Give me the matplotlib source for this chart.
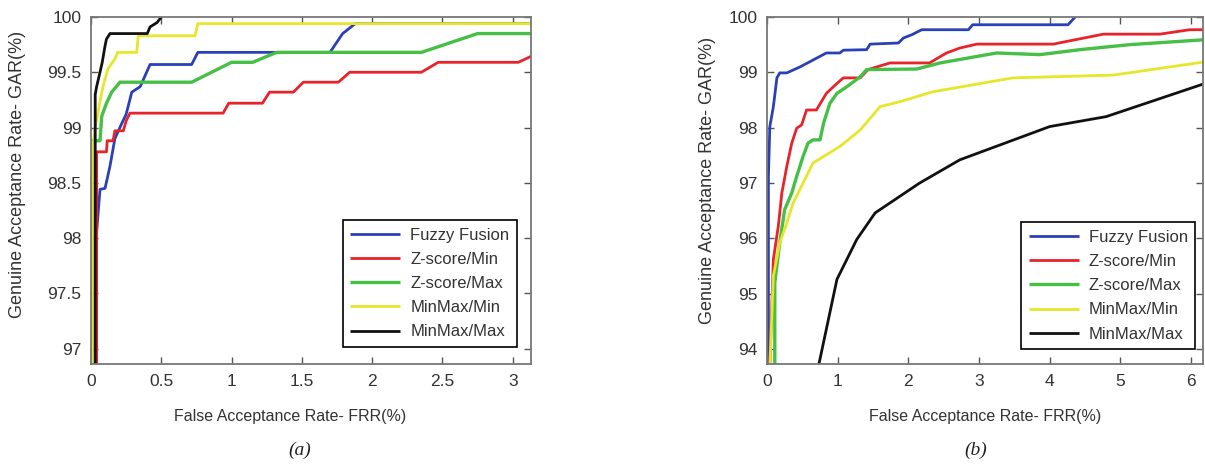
import matplotlib
matplotlib.use("Agg")
import matplotlib.pyplot as plt

plt.rcParams['font.family'] = ['Liberation Sans', 'DejaVu Sans']

labels = ["Fuzzy Fusion", "Z-score/Min", "Z-score/Max", "MinMax/Min", "MinMax/Max"]
colors = ["#2a40b8", "#e8232a", "#45c045", "#e6e62a", "#111111"]
widths = [2.0, 2.0, 2.4, 2.0, 2.0]

# ---- panel (a) ----
a_fuzzy_x = [0.035, 0.04, 0.064, 0.1, 0.135, 0.17, 0.22, 0.25, 0.29, 0.35, 0.42, 0.716, 0.76, 1.70, 1.79, 1.88, 3.13]
a_fuzzy_y = [96.86, 98.05, 98.44, 98.45, 98.65, 98.9, 99.04, 99.12, 99.32, 99.37, 99.57, 99.57, 99.68, 99.68, 99.85, 99.94, 99.94]
a_zmin_x = [0.04, 0.04, 0.11, 0.115, 0.157, 0.17, 0.23, 0.25, 0.277, 0.94, 0.98, 1.22, 1.27, 1.44, 1.51, 1.76, 1.84, 2.35, 2.47, 3.04, 3.14]
a_zmin_y = [96.86, 98.78, 98.78, 98.88, 98.88, 98.97, 98.97, 99.06, 99.13, 99.13, 99.22, 99.22, 99.32, 99.32, 99.41, 99.41, 99.50, 99.50, 99.59, 99.59, 99.65]
a_zmax_x = [0.005, 0.005, 0.064, 0.076, 0.11, 0.147, 0.206, 0.716, 1.0, 1.15, 1.32, 2.35, 2.75, 3.13]
a_zmax_y = [96.86, 98.88, 98.88, 99.10, 99.22, 99.32, 99.41, 99.41, 99.59, 99.59, 99.68, 99.68, 99.85, 99.85]
a_mmin_x = [0.01, 0.01, 0.03, 0.057, 0.087, 0.12, 0.17, 0.19, 0.325, 0.336, 0.74, 0.76, 3.13]
a_mmin_y = [96.86, 98.8, 99.0, 99.19, 99.38, 99.53, 99.62, 99.68, 99.68, 99.83, 99.83, 99.94, 99.94]
a_mmax_x = [0.03, 0.03, 0.04, 0.064, 0.08, 0.10, 0.11, 0.135, 0.40, 0.42, 0.47, 0.50]
a_mmax_y = [96.86, 99.3, 99.37, 99.50, 99.59, 99.74, 99.8, 99.85, 99.85, 99.91, 99.95, 100.0]

a_xticks = [0, 0.5, 1, 1.5, 2, 2.5, 3]
a_xticklabels = ["0", "0.5", "1", "1.5", "2", "2.5", "3"]
a_yticks = [97, 97.5, 98, 98.5, 99, 99.5, 100]
a_yticklabels = ["97", "97.5", "98", "98.5", "99", "99.5", "100"]

# ---- panel (b) ----
b_fuzzy_x = [0.02, 0.02, 0.04, 0.09, 0.14, 0.18, 0.28, 0.47, 0.84, 1.03, 1.08, 1.41, 1.46, 1.86, 1.93, 2.05, 2.19, 2.85, 2.91, 4.26, 4.36]
b_fuzzy_y = [93.7, 97.12, 98.02, 98.38, 98.9, 98.99, 98.99, 99.1, 99.35, 99.35, 99.4, 99.41, 99.51, 99.53, 99.62, 99.68, 99.77, 99.77, 99.86, 99.86, 100.0]
b_zmin_x = [0.04, 0.09, 0.16, 0.21, 0.28, 0.35, 0.42, 0.49, 0.56, 0.70, 0.84, 0.99, 1.08, 1.32, 1.43, 1.74, 2.3, 2.54, 2.73, 2.97, 4.05, 4.76, 5.56, 5.98, 6.2]
b_zmin_y = [93.7, 95.62, 96.22, 96.82, 97.3, 97.72, 97.99, 98.05, 98.32, 98.32, 98.62, 98.8, 98.9, 98.9, 99.05, 99.17, 99.17, 99.35, 99.44, 99.51, 99.51, 99.69, 99.69, 99.77, 99.77]
b_zmax_x = [0.11, 0.11, 0.18, 0.25, 0.35, 0.42, 0.51, 0.58, 0.65, 0.75, 0.80, 0.89, 0.99, 1.13, 1.32, 1.41, 2.12, 2.45, 3.25, 3.86, 4.43, 5.13, 6.2]
b_zmax_y = [93.7, 95.2, 95.92, 96.52, 96.82, 97.12, 97.48, 97.72, 97.78, 97.78, 98.08, 98.44, 98.62, 98.74, 98.92, 99.05, 99.06, 99.17, 99.35, 99.32, 99.41, 99.5, 99.59]
b_mmin_x = [0.04, 0.09, 0.18, 0.28, 0.37, 0.51, 0.65, 1.03, 1.32, 1.60, 1.88, 2.35, 3.48, 4.90, 6.2]
b_mmin_y = [93.7, 95.32, 95.92, 96.28, 96.64, 97.0, 97.36, 97.66, 97.96, 98.38, 98.47, 98.65, 98.9, 98.95, 99.19]
b_mmax_x = [0.73, 0.99, 1.27, 1.53, 2.16, 2.73, 4.0, 4.8, 6.2]
b_mmax_y = [93.7, 95.26, 95.98, 96.46, 97.0, 97.42, 98.02, 98.2, 98.8]

b_xticks = [0, 1, 2, 3, 4, 5, 6]
b_xticklabels = ["0", "1", "2", "3", "4", "5", "6"]
b_yticks = [94, 95, 96, 97, 98, 99, 100]
b_yticklabels = ["94", "95", "96", "97", "98", "99", "100"]

xlabel = "False Acceptance Rate- FRR(%)"
ylabel = "Genuine Acceptance Rate- GAR(%)"

fig = plt.figure(figsize=(12.05, 4.66), dpi=100)
W, H = 1205, 466

def axes_px(l, t, r, b):
    return fig.add_axes([l / W, 1 - b / H, (r - l) / W, (b - t) / H])

ax_a = axes_px(91, 17, 531, 364)
ax_b = axes_px(767, 17, 1203, 364)

panels = [
    (ax_a,
     [(a_fuzzy_x, a_fuzzy_y), (a_zmin_x, a_zmin_y), (a_zmax_x, a_zmax_y), (a_mmin_x, a_mmin_y), (a_mmax_x, a_mmax_y)],
     (0, 3.13), (96.86, 100), a_xticks, a_xticklabels, a_yticks, a_yticklabels,
     (0.968, 0.049), 0.452, (-0.148, 0.545), "(a)", 300),
    (ax_b,
     [(b_fuzzy_x, b_fuzzy_y), (b_zmin_x, b_zmin_y), (b_zmax_x, b_zmax_y), (b_mmin_x, b_mmin_y), (b_mmax_x, b_mmax_y)],
     (0, 6.17), (93.73, 100), b_xticks, b_xticklabels, b_yticks, b_yticklabels,
     (0.982, 0.043), 0.50, (-0.118, 0.53), "(b)", 976),
]

for ax, series, xl, yl, xt, xtl, yt, ytl, leg_anchor, xlab_pos, ylab_pos, cap, cap_x in panels:
    for (xs, ys), lab, c, lw in zip(series, labels, colors, widths):
        ax.plot(xs, ys, color=c, lw=lw, label=lab, solid_capstyle='butt')
    ax.set_xlim(*xl)
    ax.set_ylim(*yl)
    ax.set_xticks(xt)
    ax.set_xticklabels(xtl)
    ax.set_yticks(yt)
    ax.set_yticklabels(ytl)
    ax.tick_params(direction='in', top=True, right=True, length=5, width=1,
                   color='#555555', labelsize=12.5, labelcolor='#333333', pad=7)
    for sp in ax.spines.values():
        sp.set_color('#777777')
        sp.set_linewidth(1.3)
    ax.set_xlabel(xlabel, fontsize=11.5, color='#333333', labelpad=10)
    ax.xaxis.set_label_coords(xlab_pos, -0.13)
    ax.set_ylabel(ylabel, fontsize=13, color='#333333')
    ax.yaxis.set_label_coords(*ylab_pos)
    leg = ax.legend(loc='lower right', bbox_to_anchor=leg_anchor, borderaxespad=0,
                    fancybox=False, framealpha=1, edgecolor='black', fontsize=12,
                    handlelength=3.0, handletextpad=0.6, labelspacing=0.55,
                    borderpad=0.45)
    leg.get_frame().set_linewidth(1.2)
    for t in leg.get_texts():
        t.set_color('#333333')
    fig.text(cap_x / W, 1 - 450 / H, cap, ha='center', va='center', fontsize=14,
             family=['Liberation Serif', 'DejaVu Serif'], style='italic', color='#222222')

fig.savefig("out.png", dpi=100)
